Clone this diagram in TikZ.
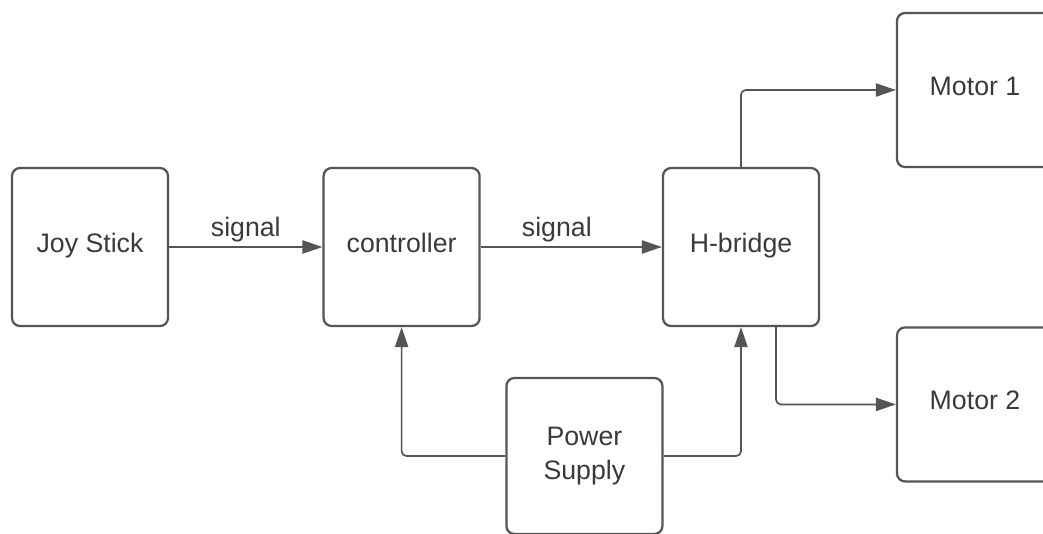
\documentclass[tikz,border=0pt]{standalone}
\usepackage{fontspec}
\setmainfont{Liberation Sans}
\usetikzlibrary{arrows.meta, positioning}
\definecolor{linegray}{HTML}{555555}
\definecolor{textgray}{HTML}{3A3A3A}

\tikzset{
  block/.style={draw=linegray, line width=1.6pt, rounded corners=0.2cm,
    minimum width=3.9cm, minimum height=3.95cm, text=textgray,
    font=\fontsize{19}{24}\selectfont, align=center},
  oneline/.style={text height=1.75ex, text depth=0.4ex},
  wire/.style={draw=linegray, line width=1.2pt, rounded corners=0.12cm,
    -{Triangle[length=0.5cm,width=0.33cm]}},
  wirelabel/.style={text=textgray, font=\fontsize{19}{24}\selectfont, inner sep=3pt}
}

\begin{document}
\begin{tikzpicture}
  % Page frame
  \useasboundingbox (0,0) rectangle (26.075,-13.325);
  \clip (0,0) rectangle (26.075,-13.325);

  % Main chain
  \node[block, oneline] (joy) at (2.25,-6.175) {Joy Stick};
  \node[block, oneline] (ctrl) at (10.04,-6.175) {controller};
  \node[block, oneline] (hbridge) at (18.525,-6.175) {H-bridge};

  % Motors (cut by the right edge)
  \node[block, oneline, minimum height=3.85cm] (motorA) at (24.375,-2.25) {Motor 1};
  \node[block, oneline, minimum height=3.85cm] (motorB) at (24.375,-10.11) {Motor 2};

  % Supply (cut by the bottom edge)
  \node[block, minimum height=3.9cm] (supply) at (14.61,-11.4) {Power\\Supply};

  % Signal path
  \draw[wire] (joy) -- node[wirelabel, above] {signal} (ctrl);
  \draw[wire] (ctrl) -- node[wirelabel, above, pos=0.42] {signal} (hbridge);

  % Motor outputs
  \draw[wire] (hbridge.north) |- (motorA.west);
  \draw[wire] ([xshift=0.875cm]hbridge.south) |- (motorB.west);

  % Power lines
  \draw[wire] (supply.west) -| (ctrl.south);
  \draw[wire] (supply.east) -| (hbridge.south);
\end{tikzpicture}
\end{document}
